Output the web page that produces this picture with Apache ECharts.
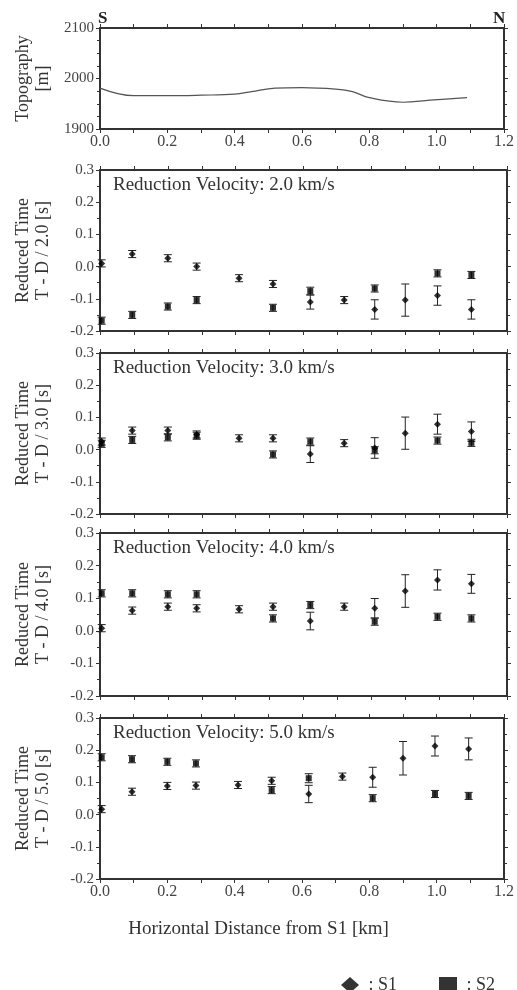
<!DOCTYPE html>
<html><head><meta charset="utf-8">
<script src="https://cdn.jsdelivr.net/npm/echarts@6/dist/echarts.min.js"></script>
<style>html,body{margin:0;padding:0;background:#fff}#c{width:517px;height:990px}</style>
</head><body><div id="c"></div>
<script>
// ---- data ----
const dist = [0.005, 0.095, 0.2, 0.285, 0.41, 0.51, 0.62, 0.72, 0.81, 0.9, 0.995, 1.095];

const topoX = [0, 0.1, 0.2, 0.3, 0.4, 0.45, 0.52, 0.6, 0.7, 0.75, 0.8, 0.9, 0.98, 1.09];
const topoZ = [1981, 1966, 1966, 1967, 1969, 1974, 1981, 1982, 1979, 1974, 1962, 1953, 1957, 1962];

const velocities = ['2.0', '3.0', '4.0', '5.0'];

const s1_v2 = [0.010, 0.039, 0.026, 0.000, -0.036, -0.054, -0.110, -0.104, -0.133, -0.104, -0.090, -0.133];
const s1err_v2 = [0.011, 0.011, 0.011, 0.011, 0.011, 0.011, 0.022, 0.011, 0.030, 0.050, 0.030, 0.030];
const s2_v2 = [-0.168, -0.150, -0.124, -0.104, null, -0.128, -0.076, null, -0.068, null, -0.021, -0.026];
const s2err_v2 = [0.011, 0.011, 0.011, 0.011, null, 0.011, 0.012, null, 0.011, null, 0.011, 0.011];

const s1_v3 = [0.025, 0.059, 0.059, 0.047, 0.035, 0.035, -0.014, 0.020, 0.005, 0.051, 0.079, 0.056];
const s1err_v3 = [0.011, 0.011, 0.011, 0.011, 0.011, 0.011, 0.026, 0.011, 0.032, 0.050, 0.031, 0.030];
const s2_v3 = [0.018, 0.030, 0.038, 0.043, null, -0.015, 0.025, null, -0.002, null, 0.028, 0.021];
const s2err_v3 = [0.011, 0.011, 0.011, 0.011, null, 0.011, 0.011, null, 0.011, null, 0.011, 0.011];

const s1_v4 = [0.008, 0.062, 0.074, 0.069, 0.066, 0.074, 0.030, 0.074, 0.069, 0.122, 0.156, 0.144];
const s1err_v4 = [0.011, 0.011, 0.011, 0.011, 0.011, 0.011, 0.027, 0.011, 0.030, 0.050, 0.031, 0.029];
const s2_v4 = [0.115, 0.115, 0.112, 0.112, null, 0.038, 0.079, null, 0.028, null, 0.043, 0.038];
const s2err_v4 = [0.011, 0.011, 0.011, 0.011, null, 0.011, 0.011, null, 0.011, null, 0.011, 0.011];

const s1_v5 = [0.017, 0.071, 0.089, 0.090, 0.092, 0.105, 0.064, 0.118, 0.116, 0.175, 0.213, 0.204];
const s1err_v5 = [0.011, 0.011, 0.011, 0.011, 0.011, 0.011, 0.027, 0.011, 0.031, 0.052, 0.031, 0.034];
const s2_v5 = [0.178, 0.172, 0.164, 0.159, null, 0.076, 0.113, null, 0.051, null, 0.064, 0.058];
const s2err_v5 = [0.011, 0.011, 0.011, 0.011, null, 0.011, 0.014, null, 0.011, null, 0.011, 0.011];

const xTicks = ['0.0', '0.2', '0.4', '0.6', '0.8', '1.0', '1.2'];
const timeTicks = ['-0.2', '-0.1', '0.0', '0.1', '0.2', '0.3'];
const topoTicks = ['1900', '2000', '2100'];

// ---- chart ----
const panels = [
  {s1: s1_v2, e1: s1err_v2, s2: s2_v2, e2: s2err_v2},
  {s1: s1_v3, e1: s1err_v3, s2: s2_v3, e2: s2err_v3},
  {s1: s1_v4, e1: s1err_v4, s2: s2_v4, e2: s2err_v4},
  {s1: s1_v5, e1: s1err_v5, s2: s2_v5, e2: s2err_v5}
];
const FONT = 'Liberation Serif';
const INK = '#333';
const gridBoxes = [
  {top: 28, height: 101},
  {top: 170, height: 161},
  {top: 353, height: 161},
  {top: 533, height: 163},
  {top: 718, height: 161}
];
const grids = gridBoxes.map(b => ({left: 100, width: 407, top: b.top, height: b.height, containLabel: false}));

const axLine = {show: true, onZero: false, lineStyle: {color: INK, width: 2}};
const xAxes = [], yAxes = [];
gridBoxes.forEach((b, g) => {
  const showLab = (g === 0 || g === 4);
  const xBase = {
    type: 'value', gridIndex: g, min: 0, max: 1.2, interval: 0.2,
    axisLine: axLine, splitLine: {show: false},
    axisTick: {show: true, length: 4, inside: false, lineStyle: {color: INK}},
    minorTick: {show: true, splitNumber: 2, length: 4, lineStyle: {color: INK}}
  };
  xAxes.push(Object.assign({}, xBase, {
    position: 'bottom',
    axisLabel: {show: showLab, margin: 5, fontFamily: FONT, fontSize: 16, color: '#444',
      formatter: v => xTicks[Math.round(v / 0.2)]}
  }));
  xAxes.push(Object.assign({}, xBase, {position: 'top', axisLabel: {show: false}}));
  let yBase;
  if (g === 0) {
    yBase = {type: 'value', gridIndex: 0, min: 1900, max: 2100, interval: 100,
      minorTick: {show: true, splitNumber: 4, length: 3, lineStyle: {color: INK}}};
  } else {
    yBase = {type: 'value', gridIndex: g, min: -0.2, max: 0.3, interval: 0.1,
      minorTick: {show: true, splitNumber: 2, length: 3, lineStyle: {color: INK}}};
  }
  Object.assign(yBase, {axisLine: axLine, splitLine: {show: false},
    axisTick: {show: true, length: 4, inside: false, lineStyle: {color: INK}}});
  const yName = g === 0 ? 'Topography\n[m]' : 'Reduced Time\nT - D / ' + velocities[g - 1] + ' [s]';
  yAxes.push(Object.assign({}, yBase, {
    position: 'left', name: yName, nameLocation: 'middle', nameRotate: 90, nameGap: 47,
    nameTextStyle: {fontFamily: FONT, fontSize: 18, color: INK, lineHeight: 20},
    axisLabel: {show: true, margin: 6, fontFamily: FONT, fontSize: 15, color: '#444',
      formatter: v => g === 0 ? topoTicks[Math.round((v - 1900) / 100)] : timeTicks[Math.round((v + 0.2) / 0.1)]}
  }));
  yAxes.push(Object.assign({}, yBase, {position: 'right', axisLabel: {show: false}}));
});

function errRender(params, api) {
  const x = api.value(0), v = api.value(1), e = api.value(2);
  const hi = api.coord([x, v + e]), lo = api.coord([x, v - e]);
  const w = 4;
  const st = {stroke: '#222', lineWidth: 1};
  return {type: 'group', children: [
    {type: 'line', shape: {x1: hi[0], y1: hi[1], x2: lo[0], y2: lo[1]}, style: st},
    {type: 'line', shape: {x1: hi[0] - w, y1: hi[1], x2: hi[0] + w, y2: hi[1]}, style: st},
    {type: 'line', shape: {x1: lo[0] - w, y1: lo[1], x2: lo[0] + w, y2: lo[1]}, style: st}
  ]};
}

const series = [{
  type: 'line', xAxisIndex: 0, yAxisIndex: 0, smooth: 0.4, symbol: 'none',
  lineStyle: {color: '#555', width: 1.2},
  data: topoX.map((x, i) => [x, topoZ[i]]), silent: true
}];
panels.forEach((p, i) => {
  const ax = 2 * (i + 1);
  const d1 = [], d2 = [];
  dist.forEach((x, k) => {
    if (p.s1[k] !== null) d1.push([x, p.s1[k], p.e1[k]]);
    if (p.s2[k] !== null) d2.push([x, p.s2[k], p.e2[k]]);
  });
  series.push({type: 'custom', xAxisIndex: ax, yAxisIndex: ax, renderItem: errRender, encode: {x: 0, y: 1}, data: d1, silent: true, z: 2});
  series.push({type: 'custom', xAxisIndex: ax, yAxisIndex: ax, renderItem: errRender, encode: {x: 0, y: 1}, data: d2, silent: true, z: 2});
  series.push({name: 'S1', type: 'scatter', xAxisIndex: ax, yAxisIndex: ax, symbol: 'diamond', symbolSize: 7,
    itemStyle: {color: '#000'}, data: d1.map(d => [d[0], d[1]]), z: 3});
  series.push({name: 'S2', type: 'scatter', xAxisIndex: ax, yAxisIndex: ax, symbol: 'rect', symbolSize: 6,
    itemStyle: {color: '#000'}, data: d2.map(d => [d[0], d[1]]), z: 3});
});

const graphics = [
  {type: 'text', left: 98, top: 10, style: {text: 'S', font: 'bold 17px "Liberation Serif"', fill: '#222'}},
  {type: 'text', left: 493, top: 10, style: {text: 'N', font: 'bold 17px "Liberation Serif"', fill: '#222'}},
  {type: 'text', left: 'center', top: 920, style: {text: 'Horizontal Distance from S1 [km]', font: '19px "Liberation Serif"', fill: INK}}
];
gridBoxes.slice(1).forEach((b, i) => {
  graphics.push({type: 'text', left: 113, top: b.top + 6,
    style: {text: 'Reduction Velocity: ' + velocities[i] + ' km/s', font: '19px "Liberation Serif"', fill: INK}});
});

const option = {
  backgroundColor: '#fff',
  animation: false,
  grid: grids,
  xAxis: xAxes,
  yAxis: yAxes,
  series: series,
  graphic: graphics,
  legend: {
    left: 336, top: 971, itemWidth: 18, itemHeight: 16, itemGap: 42,
    data: [{name: 'S1', icon: 'diamond'}, {name: 'S2', icon: 'rect'}],
    formatter: ' : {name}',
    textStyle: {fontFamily: FONT, fontSize: 18, color: INK}
  }
};
const chart = echarts.init(document.getElementById('c'), null, {renderer: 'canvas'});
chart.setOption(option);
</script>
</body></html>
